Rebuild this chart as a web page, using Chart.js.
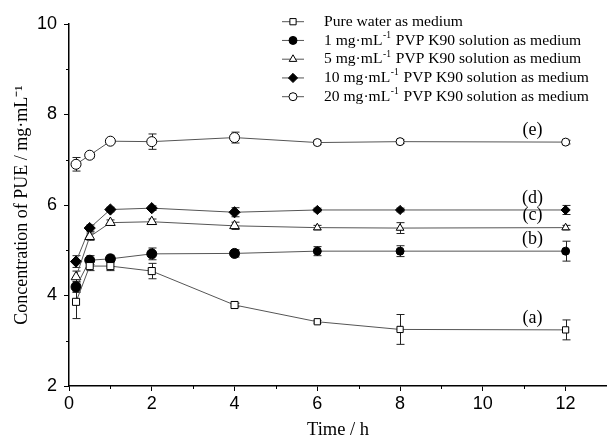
<!DOCTYPE html>
<html>
<head>
<meta charset="utf-8">
<script src="https://cdn.jsdelivr.net/npm/chart.js@4.4.0/dist/chart.umd.min.js"></script>
<style>
  html, body { margin: 0; padding: 0; background: #fff; }
  #wrap { width: 607px; height: 441px; }
</style>
</head>
<body>
<div id="wrap"><canvas id="releaseChart" width="607" height="441"></canvas></div>
<script>
// sampling times (h)
const hours = [0.17, 0.5, 1, 2, 4, 6, 8, 12];

// mean concentration, mg/mL
const pureWater = [3.86, 4.65, 4.65, 4.54, 3.79, 3.42, 3.25, 3.24];
const pvp1 = [4.19, 4.78, 4.81, 4.92, 4.93, 4.98, 4.98, 4.98];
const pvp5 = [4.41, 5.30, 5.61, 5.63, 5.54, 5.50, 5.49, 5.50];
const pvp10 = [4.75, 5.49, 5.90, 5.93, 5.84, 5.89, 5.89, 5.89];
const pvp20 = [6.90, 7.10, 7.41, 7.40, 7.49, 7.38, 7.40, 7.39];

// standard deviations
const pureWaterSdHigh = [0.22, 0.10, 0.10, 0.17, 0.04, 0.03, 0.33, 0.22];
const pureWaterSdLow = [0.37, 0.10, 0.10, 0.17, 0.04, 0.03, 0.33, 0.22];
const pvp1Sd = [0.12, 0.10, 0.08, 0.13, 0.08, 0.10, 0.12, 0.22];
const pvp5Sd = [0.13, 0.08, 0.06, 0.06, 0.08, 0.05, 0.12, 0.05];
const pvp10Sd = [0.13, 0.07, 0.05, 0.05, 0.10, 0.04, 0.04, 0.10];
const pvp20Sd = [0.15, 0.06, 0.04, 0.17, 0.12, 0.04, 0.04, 0.04];

const curveTags = ['(a)', '(b)', '(c)', '(d)', '(e)'];

const xTicks = [0, 2, 4, 6, 8, 10, 12];
const yTicks = [2, 4, 6, 8, 10];

const serif = "'Liberation Serif', 'Times New Roman', serif";
const sans = "'Liberation Sans', Arial, sans-serif";

const toPoints = (vals) => hours.map((h, i) => ({ x: h, y: vals[i] }));

const makeSeries = (label, vals, high, low, tag, style, fill, big, small) => ({
  label: label,
  data: toPoints(vals),
  sdHigh: high,
  sdLow: low,
  tag: tag,
  borderColor: '#555',
  borderWidth: 1,
  pointStyle: style,
  pointBackgroundColor: fill,
  pointBorderColor: '#000',
  pointBorderWidth: 1,
  legendRadius: small,
  // later samples were plotted with slightly smaller symbols
  pointRadius: (ctx) => (ctx.raw && ctx.raw.x > 5 ? small : big),
  tension: 0,
});

const datasets = [
  makeSeries('Pure water as medium', pureWater, pureWaterSdHigh, pureWaterSdLow, curveTags[0], 'rect', '#fff', 5, 4.4),
  makeSeries('1 mg·mL-1 PVP K90 solution as medium', pvp1, pvp1Sd, pvp1Sd, curveTags[1], 'circle', '#000', 5, 4),
  makeSeries('5 mg·mL-1 PVP K90 solution as medium', pvp5, pvp5Sd, pvp5Sd, curveTags[2], 'triangle', '#fff', 5.6, 4.4),
  makeSeries('10 mg·mL-1 PVP K90 solution as medium', pvp10, pvp10Sd, pvp10Sd, curveTags[3], 'rectRot', '#000', 5.6, 4.6),
  makeSeries('20 mg·mL-1 PVP K90 solution as medium', pvp20, pvp20Sd, pvp20Sd, curveTags[4], 'circle', '#fff', 5, 4),
];

// error bars, minor ticks, curve tags and the legend block
const extras = {
  id: 'extras',
  beforeDatasetsDraw(chart) {
    const ctx = chart.ctx;
    const xs = chart.scales.x;
    const ys = chart.scales.y;
    ctx.save();
    ctx.strokeStyle = '#222';
    ctx.lineWidth = 1;
    chart.data.datasets.forEach((ds) => {
      ds.data.forEach((p, i) => {
        const px = Math.round(xs.getPixelForValue(p.x)) + 0.5;
        const top = ys.getPixelForValue(p.y + ds.sdHigh[i]);
        const bot = ys.getPixelForValue(p.y - ds.sdLow[i]);
        ctx.beginPath();
        ctx.moveTo(px, top);
        ctx.lineTo(px, bot);
        ctx.moveTo(px - 4, top);
        ctx.lineTo(px + 4, top);
        ctx.moveTo(px - 4, bot);
        ctx.lineTo(px + 4, bot);
        ctx.stroke();
      });
    });
    ctx.restore();
  },
  afterDraw(chart) {
    const ctx = chart.ctx;
    const xs = chart.scales.x;
    const ys = chart.scales.y;
    const area = chart.chartArea;
    ctx.save();

    // minor ticks at odd values
    ctx.strokeStyle = '#000';
    ctx.lineWidth = 1;
    ctx.beginPath();
    for (let v = 1; v < 13; v += 2) {
      const px = Math.round(xs.getPixelForValue(v)) + 0.5;
      ctx.moveTo(px, area.bottom);
      ctx.lineTo(px, area.bottom + 3);
    }
    for (let v = 3; v < 10; v += 2) {
      const py = Math.round(ys.getPixelForValue(v)) + 0.5;
      ctx.moveTo(area.left, py);
      ctx.lineTo(area.left - 3, py);
    }
    ctx.stroke();

    // (a)..(e) next to the last points
    ctx.fillStyle = '#000';
    ctx.font = '18px ' + serif;
    ctx.textAlign = 'center';
    ctx.textBaseline = 'middle';
    chart.data.datasets.forEach((ds) => {
      const last = ds.data[ds.data.length - 1];
      ctx.fillText(ds.tag, xs.getPixelForValue(11.2), ys.getPixelForValue(last.y) - 12);
    });

    // legend
    const rowTop = 21.7;
    const rowStep = 18.75;
    ctx.textAlign = 'left';
    chart.data.datasets.forEach((ds, i) => {
      const y = rowTop + i * rowStep;
      ctx.strokeStyle = '#555';
      ctx.lineWidth = 1;
      ctx.beginPath();
      ctx.moveTo(282, y);
      ctx.lineTo(304, y);
      ctx.stroke();
      ctx.fillStyle = ds.pointBackgroundColor;
      ctx.strokeStyle = '#000';
      Chart.helpers.drawPoint(ctx, { pointStyle: ds.pointStyle, radius: ds.legendRadius, rotation: 0, borderWidth: 1 }, 293, y);

      ctx.fillStyle = '#000';
      ctx.textBaseline = 'middle';
      ctx.font = '15.6px ' + serif;
      let x = 324;
      const parts = ds.label.split('-1');
      if (parts.length === 1) {
        ctx.fillText(ds.label, x, y);
      } else {
        ctx.fillText(parts[0], x, y);
        x += ctx.measureText(parts[0]).width;
        ctx.font = '9.5px ' + serif;
        ctx.fillText('-1', x + 0.5, y - 5);
        x += ctx.measureText('-1').width + 1.5;
        ctx.font = '15.6px ' + serif;
        ctx.fillText(parts[1], x, y);
      }
    });
    ctx.restore();
  },
};

const ctx = document.getElementById('releaseChart').getContext('2d');
new Chart(ctx, {
  type: 'line',
  data: { datasets: datasets },
  plugins: [extras],
  options: {
    responsive: false,
    animation: false,
    devicePixelRatio: 1,
    layout: { autoPadding: false, padding: { top: 24, right: 0, left: 0, bottom: 0 } },
    plugins: {
      legend: { display: false },
      tooltip: { enabled: false },
    },
    scales: {
      x: {
        type: 'linear',
        min: 0,
        max: 13,
        afterBuildTicks: (s) => { s.ticks = xTicks.map((v) => ({ value: v })); },
        afterFit: (s) => {
          s.height = 55;
          // the axis runs to the right edge of the canvas
          s.paddingLeft = 0;
          s.paddingRight = 0;
        },
        ticks: { color: '#000', padding: 2, maxRotation: 0, font: { family: sans, size: 18 } },
        grid: { drawOnChartArea: false, tickLength: 5, tickColor: '#000', tickWidth: 1 },
        border: { color: '#000', width: 1.5 },
        title: {
          display: true,
          text: 'Time / h',
          color: '#000',
          font: { family: serif, size: 18.5 },
          padding: { top: 0, bottom: 0 },
        },
      },
      y: {
        type: 'linear',
        min: 2,
        max: 10,
        afterBuildTicks: (s) => { s.ticks = yTicks.map((v) => ({ value: v })); },
        afterFit: (s) => { s.width = 69; },
        ticks: { color: '#000', padding: 7, font: { family: sans, size: 18 } },
        grid: { drawOnChartArea: false, tickLength: 5, tickColor: '#000', tickWidth: 1 },
        border: { color: '#000', width: 1.5 },
        title: {
          display: true,
          text: 'Concentration of PUE / mg·mL⁻¹',
          color: '#000',
          font: { family: serif, size: 18 },
          padding: { top: 11, bottom: 0 },
        },
      },
    },
  },
});
</script>
</body>
</html>
